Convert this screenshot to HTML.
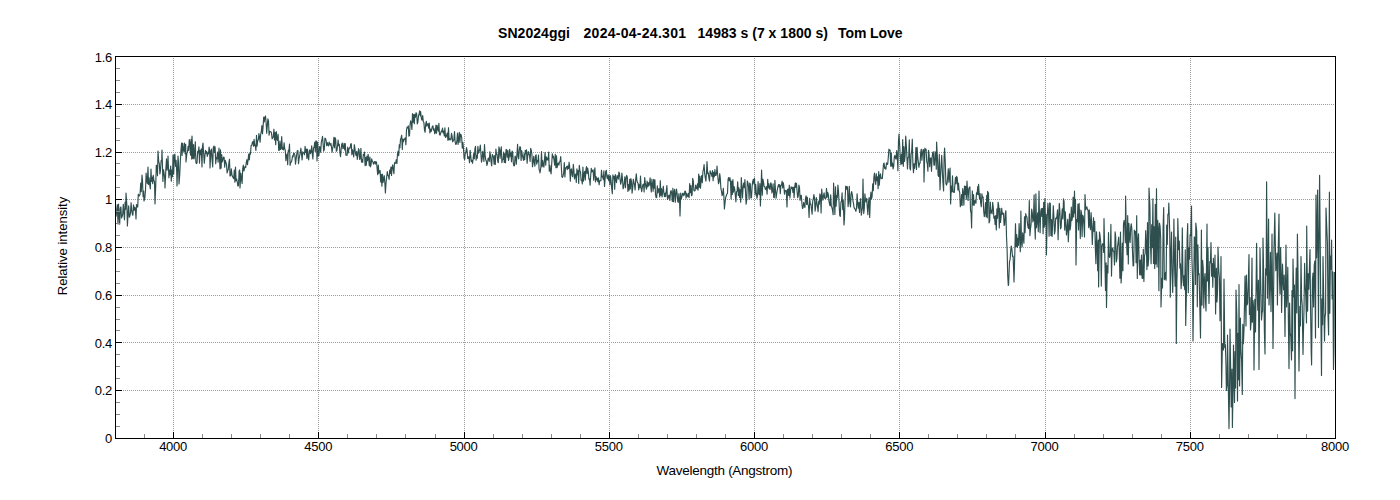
<!DOCTYPE html>
<html><head><meta charset="utf-8"><title>SN2024ggi</title>
<style>
html,body{margin:0;padding:0;background:#fff;}
body{width:1400px;height:500px;overflow:hidden;}
svg{display:block;font-family:"Liberation Sans",Arial,sans-serif;}
.tl{font-size:13px;fill:#000;letter-spacing:-0.25px;}
.al{font-size:13px;fill:#000;}
.tt{font-size:14px;font-weight:bold;fill:#000;}
</style></head><body>
<svg width="1400" height="500" viewBox="0 0 1400 500" xmlns="http://www.w3.org/2000/svg">
<rect width="1400" height="500" fill="#fff"/>

<g shape-rendering="crispEdges" stroke="#9c9c9c" stroke-width="1" stroke-dasharray="1 1">
<line x1="123" y1="390.5" x2="1335" y2="390.5"/>
<line x1="123" y1="342.5" x2="1335" y2="342.5"/>
<line x1="123" y1="295.5" x2="1335" y2="295.5"/>
<line x1="123" y1="247.5" x2="1335" y2="247.5"/>
<line x1="123" y1="199.5" x2="1335" y2="199.5"/>
<line x1="123" y1="152.5" x2="1335" y2="152.5"/>
<line x1="123" y1="104.5" x2="1335" y2="104.5"/>
<line x1="173.5" y1="58" x2="173.5" y2="432"/>
<line x1="318.5" y1="58" x2="318.5" y2="432"/>
<line x1="464.5" y1="58" x2="464.5" y2="432"/>
<line x1="609.5" y1="58" x2="609.5" y2="432"/>
<line x1="754.5" y1="58" x2="754.5" y2="432"/>
<line x1="899.5" y1="58" x2="899.5" y2="432"/>
<line x1="1045.5" y1="58" x2="1045.5" y2="432"/>
<line x1="1190.5" y1="58" x2="1190.5" y2="432"/>
</g>
<path d="M115.5,213.0 L116.1,216.1 L116.7,210.2 L117.3,204.7 L118.0,224.0 L118.5,204.0 L119.1,213.6 L119.7,224.1 L120.3,208.1 L120.9,206.9 L121.5,217.9 L122.1,216.6 L122.7,214.1 L123.3,204.4 L123.9,212.7 L124.5,219.8 L125.1,202.0 L125.7,209.3 L126.0,193.0 L126.9,205.6 L127.4,226.0 L128.1,212.8 L128.7,205.9 L129.3,217.1 L129.9,216.0 L130.5,213.0 L131.1,202.7 L131.7,210.1 L132.3,214.0 L132.9,215.3 L133.5,204.8 L134.1,210.4 L134.7,207.2 L135.3,208.1 L136.0,219.0 L136.5,204.5 L137.1,205.5 L137.7,207.1 L138.3,194.1 L138.9,195.7 L139.5,195.9 L140.1,193.9 L140.7,183.1 L141.3,191.6 L142.0,175.0 L142.5,180.7 L143.1,196.7 L143.7,191.1 L144.0,201.0 L144.9,197.5 L145.5,190.3 L146.1,173.1 L146.7,180.3 L147.3,183.6 L148.0,167.0 L148.5,184.4 L149.1,177.9 L149.7,184.3 L150.3,188.8 L151.0,169.0 L151.5,181.5 L152.1,177.1 L152.7,183.6 L153.3,175.4 L153.9,180.6 L154.5,181.6 L155.0,204.0 L155.7,186.6 L156.3,165.3 L156.9,165.5 L157.5,175.7 L158.0,151.0 L158.7,161.4 L159.3,163.6 L159.9,173.9 L160.5,170.2 L161.1,160.7 L161.7,160.9 L162.0,150.0 L162.9,181.5 L163.5,169.7 L164.1,173.4 L164.7,178.0 L165.0,188.0 L165.9,168.4 L166.5,158.8 L167.1,170.3 L167.7,165.1 L168.0,156.0 L168.9,177.8 L169.5,170.0 L170.0,175.0 L170.7,166.1 L171.3,181.1 L171.9,170.0 L172.5,176.7 L173.0,155.0 L173.7,174.0 L174.3,155.4 L174.9,154.2 L175.5,166.3 L176.1,160.3 L176.7,171.7 L177.0,186.0 L178.0,156.0 L178.5,162.7 L179.0,184.0 L179.7,175.1 L180.3,162.1 L180.9,151.0 L181.6,143.0 L182.1,155.5 L182.7,143.2 L183.3,150.5 L183.9,151.5 L184.5,143.1 L185.1,153.6 L185.7,144.3 L186.0,162.0 L186.9,153.2 L187.5,152.3 L188.1,146.4 L188.7,150.5 L189.3,139.5 L189.9,142.7 L190.5,155.1 L191.1,139.2 L191.7,159.1 L192.0,136.0 L192.9,158.6 L193.5,144.6 L194.1,158.9 L194.7,153.6 L195.3,141.7 L195.9,162.5 L196.5,163.6 L197.0,163.0 L197.7,151.4 L198.3,152.7 L198.9,146.8 L199.5,163.1 L200.1,150.4 L200.7,154.7 L201.3,148.8 L202.0,167.0 L202.5,146.3 L203.0,143.0 L203.7,154.3 L204.3,163.3 L204.9,156.0 L205.5,150.3 L206.1,153.3 L206.7,151.5 L207.3,156.4 L207.9,153.2 L208.5,153.9 L209.1,147.1 L209.7,150.3 L210.0,168.0 L210.9,151.4 L211.5,149.1 L212.1,160.1 L212.7,167.0 L213.3,147.5 L214.0,146.0 L214.5,152.4 L215.1,146.8 L215.7,163.8 L216.3,157.8 L216.9,158.7 L217.5,152.1 L218.1,162.2 L218.7,153.8 L219.0,148.0 L220.0,169.0 L220.5,149.9 L221.1,168.2 L221.7,154.6 L222.3,161.9 L222.9,159.8 L223.5,157.1 L224.1,157.3 L224.7,167.2 L225.3,160.4 L225.9,162.3 L226.5,164.4 L227.1,172.9 L227.7,170.8 L228.3,169.3 L228.9,162.8 L229.5,159.2 L230.0,176.0 L230.7,175.7 L231.3,168.8 L231.9,174.4 L232.5,176.6 L233.1,177.5 L233.7,178.6 L234.3,170.1 L234.9,182.2 L235.5,167.1 L236.1,180.7 L236.7,179.1 L237.3,182.0 L237.9,186.1 L238.5,185.3 L239.1,171.1 L239.7,169.9 L240.0,188.0 L240.9,173.2 L241.5,179.1 L242.1,183.5 L242.7,168.8 L243.3,165.0 L243.9,171.0 L244.5,168.7 L245.1,166.5 L245.7,167.5 L246.3,162.3 L246.9,159.7 L247.5,164.6 L248.1,159.6 L248.7,154.1 L249.3,159.9 L249.9,153.3 L250.5,154.1 L251.1,145.5 L251.7,145.5 L252.3,142.5 L252.9,141.6 L253.5,146.3 L254.1,139.3 L254.7,145.6 L255.3,145.0 L255.9,150.5 L256.5,135.3 L257.1,146.2 L257.7,140.4 L258.3,140.3 L258.9,133.5 L259.5,136.9 L260.1,142.3 L260.7,134.3 L261.3,131.7 L261.9,125.6 L262.5,133.8 L263.1,126.6 L263.7,117.0 L264.3,121.9 L264.9,117.2 L265.5,115.9 L266.1,122.4 L266.7,133.2 L267.3,126.0 L267.9,118.9 L268.5,121.1 L269.1,135.2 L269.7,131.3 L270.3,131.7 L270.9,131.7 L271.5,133.1 L272.1,138.8 L272.7,138.0 L273.3,136.5 L273.9,129.2 L274.5,139.9 L275.1,132.5 L275.7,144.6 L276.3,131.6 L276.9,138.7 L277.5,140.4 L278.1,134.2 L278.7,150.3 L279.3,150.3 L279.9,141.0 L280.5,149.4 L281.1,148.2 L281.7,136.6 L282.3,149.3 L282.9,147.9 L283.5,149.9 L284.1,142.7 L284.7,148.7 L285.3,150.2 L285.9,160.7 L286.5,155.9 L287.1,153.8 L287.7,164.7 L288.3,150.3 L288.9,151.6 L289.5,144.0 L290.1,165.3 L290.7,162.4 L291.3,162.0 L291.9,160.3 L292.5,155.9 L293.1,156.8 L293.7,153.0 L294.3,153.4 L294.9,155.4 L295.5,164.1 L296.1,159.2 L296.7,154.5 L297.3,150.8 L297.9,150.5 L298.5,163.8 L299.1,158.6 L299.7,155.5 L300.3,152.5 L300.9,148.2 L301.5,154.2 L302.1,160.0 L302.7,151.9 L303.3,152.8 L303.9,152.8 L304.5,154.8 L305.1,146.4 L305.7,152.4 L306.3,149.0 L306.9,158.5 L307.5,149.2 L308.1,156.6 L308.7,160.0 L309.3,151.4 L309.9,149.8 L310.5,153.6 L311.1,151.9 L311.7,145.8 L312.3,153.6 L312.9,158.9 L313.5,147.7 L314.1,147.5 L314.7,142.2 L315.3,151.4 L315.9,140.9 L316.5,141.3 L317.0,161.0 L317.7,142.0 L318.3,156.0 L318.9,155.6 L319.5,146.7 L320.1,147.1 L320.7,152.3 L321.3,142.2 L321.9,139.8 L322.5,136.4 L323.1,143.9 L323.7,151.2 L324.3,149.3 L324.9,138.2 L325.5,138.6 L326.1,140.5 L326.7,145.7 L327.3,142.5 L327.9,145.2 L328.5,145.8 L329.1,142.0 L329.7,143.6 L330.3,145.3 L330.9,143.4 L331.5,147.1 L332.1,152.2 L332.7,148.0 L333.3,145.1 L333.9,137.4 L334.5,147.8 L335.1,137.7 L335.7,139.2 L336.3,151.2 L336.9,150.8 L337.5,146.2 L338.1,140.0 L338.7,145.6 L339.3,144.3 L339.9,152.1 L340.5,156.7 L341.1,150.0 L341.7,144.5 L342.3,143.0 L342.9,148.6 L343.5,148.0 L344.1,143.4 L344.7,150.0 L345.3,143.6 L345.9,155.2 L346.5,155.1 L347.1,155.3 L347.7,147.0 L348.3,152.9 L348.9,149.2 L349.5,147.8 L350.1,148.2 L350.7,144.0 L351.3,143.7 L351.9,154.8 L352.5,149.7 L353.1,152.5 L353.7,156.9 L354.3,144.7 L354.9,148.1 L355.5,153.9 L356.1,155.5 L356.7,151.4 L357.3,159.4 L357.9,155.7 L358.5,148.7 L359.1,150.1 L359.7,159.5 L360.3,158.1 L360.9,148.3 L361.5,162.1 L362.1,159.5 L362.7,162.5 L363.3,154.6 L363.9,155.3 L364.5,152.1 L365.1,165.6 L365.7,157.5 L366.3,165.1 L366.9,156.2 L367.5,160.8 L368.1,154.3 L368.7,159.1 L369.3,165.6 L369.9,157.0 L370.5,166.8 L371.1,164.3 L371.7,158.8 L372.3,161.2 L372.9,161.8 L373.5,164.1 L374.1,162.3 L374.7,161.5 L375.3,164.1 L375.9,161.7 L376.5,162.0 L377.1,168.5 L377.7,174.6 L378.3,165.1 L378.9,173.3 L379.5,171.0 L380.1,170.6 L380.7,181.9 L381.3,174.3 L381.9,186.1 L382.5,174.2 L383.1,182.5 L383.7,179.0 L384.3,175.7 L384.9,183.6 L385.4,193.0 L386.1,181.7 L386.7,177.1 L387.3,171.5 L387.9,175.5 L388.5,175.8 L389.1,179.4 L389.7,170.1 L390.3,173.5 L390.9,167.0 L391.5,175.5 L392.1,167.4 L392.7,164.9 L393.3,169.8 L393.9,173.7 L394.5,162.7 L395.1,162.9 L395.7,163.1 L396.3,159.7 L396.9,163.6 L397.5,154.1 L398.1,151.2 L398.7,155.6 L399.3,144.7 L399.9,147.9 L400.5,139.4 L401.1,137.7 L401.7,135.2 L402.3,149.4 L402.9,139.0 L403.5,141.6 L404.1,139.1 L404.7,139.4 L405.3,137.8 L405.9,144.8 L406.5,129.8 L407.1,127.2 L407.7,128.0 L408.3,125.9 L408.9,136.2 L409.5,135.6 L410.1,124.3 L410.7,120.9 L411.3,123.4 L411.9,129.5 L412.5,113.5 L413.1,122.1 L413.7,114.5 L414.3,123.8 L414.9,114.2 L415.5,117.3 L416.1,112.7 L416.7,114.0 L417.3,123.9 L417.9,122.0 L418.5,115.9 L419.1,113.7 L419.7,110.9 L420.3,115.9 L420.6,111.6 L421.5,119.3 L422.1,120.1 L422.7,115.6 L423.3,121.7 L423.9,122.6 L424.5,130.1 L425.1,132.3 L425.7,124.3 L426.3,121.4 L426.9,126.2 L427.5,123.7 L428.1,123.7 L428.7,128.1 L429.3,123.1 L429.9,132.9 L430.5,129.0 L431.1,131.7 L431.7,129.3 L432.3,126.5 L432.9,125.9 L433.5,130.2 L434.1,128.7 L434.7,133.8 L435.3,132.4 L435.9,125.2 L436.5,133.3 L437.1,125.3 L437.7,128.9 L438.3,131.2 L438.9,123.4 L439.5,134.6 L440.1,135.2 L440.7,133.0 L441.3,131.1 L441.9,131.7 L442.5,128.1 L443.1,132.9 L443.7,131.0 L444.3,136.0 L444.9,127.9 L445.5,137.4 L446.1,136.9 L446.7,135.0 L447.3,133.0 L447.9,140.3 L448.5,127.7 L449.1,140.0 L449.7,138.7 L450.3,139.1 L450.9,139.9 L451.5,133.3 L452.1,136.0 L452.7,141.8 L453.3,140.7 L453.9,139.6 L454.5,131.6 L455.1,141.7 L455.7,144.5 L456.3,144.0 L456.9,140.6 L457.5,133.0 L458.1,144.4 L458.7,139.1 L459.3,132.3 L459.9,142.4 L460.5,134.1 L461.1,134.8 L461.7,137.5 L462.3,148.2 L462.9,142.3 L463.5,148.8 L464.1,158.2 L464.7,159.6 L465.3,152.2 L465.9,153.0 L466.5,147.6 L467.1,150.5 L467.7,158.5 L468.3,158.5 L468.9,156.6 L469.5,162.8 L470.1,150.3 L470.7,155.5 L471.3,161.4 L471.9,160.4 L472.5,163.3 L473.1,159.1 L473.7,153.5 L474.3,158.8 L474.9,149.0 L475.5,146.4 L476.1,160.3 L476.7,155.5 L477.3,158.3 L477.9,146.3 L478.5,153.1 L479.1,151.4 L479.7,149.7 L480.3,145.1 L480.9,153.3 L481.5,162.2 L482.1,158.8 L482.7,151.4 L483.3,155.7 L483.9,161.4 L484.5,144.6 L485.1,154.9 L485.7,159.9 L486.3,160.9 L486.9,165.4 L487.5,163.3 L488.1,158.2 L488.7,158.1 L489.3,161.5 L489.9,151.7 L490.5,155.5 L491.1,162.1 L491.7,165.9 L492.3,154.5 L492.9,155.4 L493.5,157.3 L494.1,164.1 L494.7,155.5 L495.3,164.5 L495.9,149.1 L496.5,154.3 L497.1,154.2 L497.7,161.3 L498.3,162.7 L498.9,146.8 L499.5,149.4 L500.1,158.3 L500.7,150.9 L501.3,146.8 L501.9,162.6 L502.5,159.3 L503.1,159.3 L503.7,152.1 L504.3,162.5 L504.9,153.8 L505.5,162.8 L506.1,149.4 L506.7,149.7 L507.3,157.2 L507.9,150.6 L508.5,160.5 L509.1,157.6 L509.7,149.3 L510.3,156.1 L510.9,152.9 L511.5,161.8 L512.1,151.0 L512.7,152.3 L513.3,163.2 L513.9,165.9 L514.5,165.5 L515.1,156.0 L515.7,157.2 L516.3,164.3 L516.9,154.6 L517.6,144.4 L518.1,156.4 L518.7,158.9 L519.3,149.9 L519.9,146.7 L520.5,147.4 L521.1,160.5 L521.7,150.7 L522.3,154.9 L522.9,157.6 L523.5,160.4 L524.1,153.7 L524.7,159.7 L525.3,150.4 L525.9,153.7 L526.5,149.9 L527.1,163.3 L527.7,156.3 L528.3,151.6 L528.9,154.1 L529.5,155.1 L530.1,161.4 L530.7,148.4 L531.3,150.5 L531.9,154.3 L532.5,166.8 L533.1,162.9 L533.7,156.3 L534.3,161.7 L534.9,166.3 L535.5,155.7 L536.1,154.8 L536.7,164.2 L537.3,160.7 L537.9,161.8 L538.5,155.1 L539.1,169.6 L539.7,170.9 L540.0,173.0 L540.9,167.1 L541.5,151.5 L542.1,166.8 L542.7,160.5 L543.3,165.4 L543.9,167.1 L544.5,159.3 L545.1,152.3 L545.7,165.1 L546.3,156.9 L546.9,159.9 L547.5,158.1 L548.1,160.1 L548.7,152.0 L549.3,171.2 L549.9,165.3 L550.5,171.0 L551.1,174.0 L551.7,164.0 L552.3,153.9 L552.9,157.7 L553.5,156.3 L554.1,160.6 L554.7,165.2 L555.3,154.3 L555.9,167.6 L556.5,155.9 L557.1,167.6 L557.7,164.5 L558.3,163.1 L558.9,165.1 L559.5,161.7 L560.1,161.4 L560.7,156.6 L561.3,166.3 L561.9,176.9 L562.5,177.4 L563.1,175.7 L563.7,172.7 L564.3,162.6 L564.9,176.9 L565.5,167.8 L566.1,167.9 L566.7,166.4 L567.3,169.7 L567.9,165.8 L568.5,168.7 L569.1,162.2 L569.7,167.0 L570.3,181.1 L570.9,169.9 L571.5,168.9 L572.1,175.2 L572.7,176.7 L573.3,164.4 L573.9,170.5 L574.5,178.9 L575.1,174.9 L575.7,174.1 L576.3,182.5 L576.9,168.9 L577.5,174.8 L578.1,170.6 L578.7,183.5 L579.3,165.3 L579.9,170.7 L580.5,171.7 L581.1,180.3 L581.7,180.0 L582.3,184.0 L582.9,167.0 L583.5,181.1 L584.1,173.8 L584.7,171.4 L585.3,180.0 L585.9,170.1 L586.5,166.5 L587.1,173.6 L587.7,168.0 L588.3,172.0 L588.9,179.2 L589.5,178.8 L590.1,185.2 L590.7,175.3 L591.3,168.4 L591.9,171.8 L592.5,171.0 L593.1,169.8 L593.7,180.1 L594.3,172.8 L594.9,167.9 L595.5,181.9 L596.1,176.6 L596.7,179.9 L597.3,178.2 L597.9,181.8 L598.5,177.9 L599.1,184.8 L599.7,180.7 L600.3,180.5 L600.9,180.7 L601.5,170.2 L602.1,176.9 L602.7,176.3 L603.3,179.6 L603.9,170.9 L604.5,186.5 L605.1,179.1 L605.7,171.6 L606.3,170.3 L606.9,177.1 L607.5,178.7 L608.1,174.8 L608.7,180.7 L609.3,175.7 L609.9,184.8 L610.5,175.7 L611.1,181.1 L611.7,188.8 L612.3,193.8 L612.9,174.9 L613.5,178.8 L614.1,176.3 L614.7,189.3 L615.3,174.6 L615.9,179.0 L616.5,182.7 L617.1,175.7 L617.7,175.9 L618.3,179.1 L618.9,172.0 L619.5,173.8 L620.1,179.7 L620.7,184.2 L621.3,181.5 L621.9,173.0 L622.5,179.4 L623.1,188.8 L623.7,187.2 L624.3,182.3 L624.9,176.7 L625.5,187.6 L626.1,178.6 L626.7,175.3 L627.3,177.2 L627.9,191.4 L628.5,184.5 L629.1,190.2 L629.7,179.3 L630.3,189.0 L630.9,178.5 L631.5,181.6 L632.1,193.1 L632.7,187.9 L633.3,179.2 L633.9,182.1 L634.5,185.0 L635.1,189.9 L635.7,179.3 L636.3,173.8 L636.9,180.7 L637.5,182.7 L638.1,183.4 L638.7,190.0 L639.3,184.7 L639.9,187.7 L640.5,176.1 L641.1,187.9 L641.7,191.6 L642.3,187.5 L642.9,184.6 L643.5,184.1 L644.1,192.0 L644.7,177.6 L645.3,182.9 L645.9,187.1 L646.5,189.1 L647.1,181.1 L647.7,186.8 L648.3,182.6 L648.9,185.8 L649.5,184.1 L650.1,177.9 L650.7,185.4 L651.3,192.0 L651.9,179.2 L652.5,184.2 L653.1,191.3 L653.7,179.3 L654.3,188.1 L654.9,179.8 L655.5,194.4 L656.1,197.7 L656.7,197.4 L657.3,185.9 L657.9,192.9 L658.5,188.9 L659.1,188.9 L659.7,196.9 L660.3,180.7 L660.9,195.3 L661.5,188.5 L662.1,197.0 L662.7,191.2 L663.3,186.2 L663.9,193.2 L664.5,196.7 L665.1,193.1 L665.7,196.7 L666.3,190.8 L666.9,185.6 L667.5,199.4 L668.1,198.5 L668.7,195.4 L669.3,195.0 L669.9,200.4 L670.5,191.9 L671.1,190.6 L671.7,193.7 L672.3,201.4 L672.9,188.2 L673.5,201.6 L674.1,191.5 L674.7,189.4 L675.3,202.1 L675.9,195.0 L676.5,189.0 L677.1,193.6 L677.7,201.2 L678.3,202.4 L678.9,193.6 L679.5,198.8 L680.0,216.0 L680.7,193.1 L681.3,198.8 L681.9,196.8 L682.5,193.6 L683.1,193.2 L683.7,195.7 L684.3,194.9 L684.9,191.1 L685.5,191.2 L686.1,198.2 L686.7,193.3 L687.3,196.0 L687.9,196.6 L688.5,193.3 L689.1,197.6 L689.7,183.6 L690.3,192.6 L690.9,185.6 L691.5,195.6 L692.1,195.1 L692.7,178.4 L693.3,181.0 L693.9,190.5 L694.5,191.0 L695.1,190.5 L695.7,185.1 L696.3,188.3 L696.9,189.0 L697.5,183.8 L698.1,190.1 L698.7,174.0 L699.3,187.2 L699.9,176.2 L700.5,188.1 L701.1,180.1 L701.7,175.5 L702.3,182.6 L702.9,171.7 L703.5,169.4 L704.1,164.6 L704.7,173.7 L705.3,177.8 L705.9,181.1 L706.5,172.6 L707.0,161.6 L707.7,173.8 L708.3,172.9 L708.9,178.1 L709.5,181.2 L710.1,170.8 L710.7,172.5 L711.3,174.0 L711.9,176.4 L712.5,170.5 L713.1,180.7 L713.7,172.4 L714.3,176.9 L714.9,169.5 L715.5,175.4 L716.1,175.3 L716.7,171.5 L717.0,166.0 L717.9,177.5 L718.5,183.7 L719.1,182.1 L719.7,173.7 L720.3,178.1 L720.9,188.7 L721.5,191.2 L722.1,195.6 L722.7,194.0 L723.3,188.2 L723.9,196.6 L724.4,209.0 L725.1,202.2 L725.7,197.4 L726.3,195.7 L726.9,194.0 L727.5,193.3 L728.1,179.1 L728.6,177.6 L729.3,180.8 L729.9,177.5 L730.5,181.4 L731.1,198.9 L731.7,181.0 L732.3,194.5 L732.9,179.5 L733.5,192.1 L734.1,186.6 L734.7,189.1 L735.3,195.0 L735.9,201.8 L736.5,191.9 L737.1,191.2 L737.7,181.8 L738.3,195.5 L738.9,187.7 L739.5,197.5 L740.1,189.7 L740.7,202.2 L741.3,177.5 L741.9,187.4 L742.5,198.0 L743.1,186.9 L743.7,183.1 L744.3,187.7 L744.9,179.6 L745.5,191.5 L746.1,204.1 L746.7,199.9 L747.3,181.0 L747.9,182.6 L748.5,186.5 L749.1,199.2 L749.7,183.0 L750.3,184.0 L750.9,198.0 L751.5,197.5 L752.1,186.6 L752.7,181.3 L753.3,179.4 L753.9,183.9 L754.5,178.0 L755.1,194.9 L755.7,184.3 L756.3,192.5 L756.9,198.3 L757.5,195.8 L758.1,181.6 L758.7,193.7 L759.3,194.6 L759.9,183.6 L760.4,206.0 L761.1,187.3 L761.6,170.0 L762.3,195.2 L762.9,179.1 L763.5,182.0 L764.1,186.3 L764.7,186.6 L765.3,189.1 L765.9,189.7 L766.5,186.6 L767.1,194.1 L767.7,179.4 L768.3,188.0 L768.9,183.7 L769.5,188.8 L770.1,189.4 L770.7,182.8 L771.3,184.1 L771.9,192.9 L772.5,190.4 L773.1,183.8 L773.7,197.2 L774.3,197.7 L774.9,180.4 L775.5,190.4 L776.1,198.3 L776.7,193.5 L777.3,190.0 L777.9,186.9 L778.5,184.6 L779.1,186.9 L779.7,184.5 L780.3,193.7 L780.9,185.5 L781.5,185.2 L782.1,181.2 L782.7,187.9 L783.3,182.7 L783.9,186.9 L784.5,194.2 L785.1,190.4 L785.7,191.2 L786.3,190.7 L787.0,207.0 L787.5,189.4 L788.1,189.1 L788.7,195.5 L789.3,185.2 L789.9,198.0 L790.5,191.4 L791.1,186.8 L791.7,188.3 L792.3,187.3 L792.9,192.4 L793.5,187.2 L794.1,197.7 L794.7,187.0 L795.3,182.9 L795.9,187.3 L796.5,183.3 L797.1,191.5 L797.7,197.6 L798.3,195.8 L798.9,185.1 L799.5,187.5 L800.1,200.3 L800.7,195.8 L801.3,195.3 L801.9,203.3 L802.5,208.5 L803.1,207.8 L803.7,202.3 L804.3,205.0 L804.9,207.5 L805.5,198.3 L806.1,195.9 L806.7,204.5 L807.3,197.2 L807.9,204.4 L808.5,205.9 L809.1,217.5 L809.7,198.3 L810.3,204.3 L810.9,204.0 L811.5,209.5 L812.1,214.1 L812.7,201.3 L813.3,198.8 L813.9,194.5 L814.5,198.1 L815.1,211.2 L815.7,206.7 L816.3,197.6 L816.9,202.8 L817.5,206.9 L818.1,211.6 L818.7,201.0 L819.3,204.3 L819.9,193.9 L820.5,195.5 L821.1,212.9 L821.7,189.0 L822.3,196.0 L822.9,200.2 L823.5,195.7 L824.1,192.8 L824.7,198.2 L825.3,198.6 L825.9,198.0 L826.5,188.4 L827.1,197.5 L827.7,192.4 L828.3,194.4 L828.9,200.7 L829.5,204.0 L830.1,205.8 L830.7,194.8 L831.3,206.1 L831.9,207.6 L832.5,210.0 L833.1,214.7 L833.6,183.0 L834.3,200.4 L834.9,214.4 L835.5,186.8 L836.1,206.3 L836.7,195.6 L837.3,197.9 L837.9,185.0 L838.5,191.6 L839.1,203.2 L839.7,215.3 L840.3,216.4 L840.9,202.5 L841.5,201.0 L842.1,192.8 L842.7,209.6 L843.3,200.4 L844.0,225.0 L844.5,218.3 L845.1,199.5 L845.7,186.2 L846.3,189.4 L846.9,186.3 L847.5,187.6 L848.1,206.7 L848.7,199.1 L849.3,186.3 L849.9,203.0 L850.5,207.0 L851.1,194.1 L851.7,191.6 L852.3,194.5 L852.9,200.5 L853.5,203.7 L854.1,207.6 L854.7,208.7 L855.3,209.5 L855.9,211.3 L856.5,208.2 L857.1,193.8 L857.7,203.8 L858.3,208.1 L858.9,202.4 L859.5,212.4 L860.1,202.6 L860.7,198.6 L861.3,215.2 L861.9,211.0 L862.5,207.5 L863.0,179.0 L863.7,213.6 L864.3,208.6 L864.9,193.8 L865.5,200.3 L866.1,202.0 L866.7,198.4 L867.3,207.6 L867.9,214.6 L868.5,201.8 L869.1,197.6 L869.7,217.5 L870.3,200.4 L870.9,192.0 L871.5,198.9 L872.1,196.6 L872.7,183.8 L873.3,190.7 L873.9,176.9 L874.5,173.1 L875.1,180.7 L875.7,184.5 L876.3,173.7 L876.9,180.7 L877.5,176.9 L878.1,188.7 L878.7,171.6 L879.3,185.2 L879.9,175.6 L880.5,173.9 L881.1,178.7 L881.7,178.3 L882.3,178.6 L882.9,171.9 L883.5,164.0 L884.1,163.0 L884.7,168.5 L885.3,167.3 L885.9,169.3 L886.5,162.9 L887.1,164.5 L887.7,164.2 L888.3,157.3 L888.9,149.2 L889.5,150.5 L890.1,150.0 L890.7,166.2 L891.3,153.1 L891.9,166.2 L892.5,163.1 L893.1,168.9 L893.7,166.2 L894.3,156.8 L894.9,155.4 L895.5,158.2 L896.1,159.1 L896.7,150.6 L897.3,156.1 L897.9,170.7 L898.5,141.1 L899.0,134.0 L899.7,145.6 L900.3,157.7 L900.9,164.7 L901.5,154.2 L902.1,163.7 L902.7,139.6 L903.3,166.3 L903.9,146.7 L904.5,161.5 L905.1,156.3 L905.7,136.0 L906.3,145.1 L906.9,156.8 L907.5,168.9 L908.1,157.6 L908.7,157.3 L909.3,139.9 L909.9,168.2 L910.5,170.0 L911.1,154.4 L911.7,151.2 L912.3,139.2 L912.9,164.6 L913.5,172.6 L914.1,163.7 L914.7,168.3 L915.3,162.7 L915.9,147.5 L916.5,169.5 L917.1,147.3 L917.7,156.5 L918.3,161.9 L918.9,167.3 L919.5,163.4 L920.1,163.2 L920.7,152.4 L921.3,149.2 L921.9,160.3 L922.5,153.3 L923.1,149.6 L923.7,150.0 L924.0,182.0 L924.9,148.1 L925.5,150.1 L926.1,149.2 L926.7,161.6 L927.3,163.5 L927.9,171.2 L928.5,150.4 L929.1,154.8 L929.7,166.6 L930.3,158.4 L930.9,157.8 L931.5,171.3 L932.1,158.1 L932.7,152.5 L933.3,151.8 L933.9,165.1 L934.5,165.2 L935.1,151.7 L935.7,154.0 L936.3,169.2 L936.6,142.0 L937.5,159.4 L938.1,175.2 L938.7,176.4 L939.3,154.2 L940.0,190.0 L940.5,178.2 L941.1,165.4 L941.7,155.3 L942.3,169.5 L942.9,182.0 L943.6,191.0 L944.1,157.2 L944.6,148.0 L945.3,162.8 L945.9,183.5 L946.5,185.1 L947.1,183.2 L947.7,177.0 L948.3,168.7 L948.9,182.1 L949.5,172.9 L950.1,168.0 L950.6,204.0 L951.3,186.2 L951.9,191.9 L952.5,175.9 L953.1,191.6 L953.7,192.3 L954.3,192.5 L954.9,184.0 L955.5,177.3 L956.1,183.9 L956.7,176.3 L957.3,178.2 L957.9,190.0 L958.5,183.1 L959.1,190.5 L959.7,192.3 L960.3,206.7 L960.9,204.9 L961.5,194.6 L962.1,205.5 L962.7,188.5 L963.3,192.8 L963.9,205.1 L964.5,186.1 L965.1,194.4 L965.7,186.2 L966.3,199.3 L967.0,181.0 L967.5,190.4 L968.1,200.4 L968.7,189.3 L969.3,187.5 L969.9,186.9 L970.5,210.3 L971.1,213.2 L971.6,228.0 L972.3,190.9 L972.9,204.9 L973.5,194.6 L974.1,205.4 L974.7,200.8 L975.3,200.7 L975.9,203.5 L976.5,192.8 L977.1,194.4 L977.7,186.6 L978.3,194.6 L978.6,184.4 L979.5,199.0 L980.1,193.5 L980.7,202.9 L981.3,206.8 L981.9,193.8 L982.5,197.6 L983.1,197.0 L983.7,211.1 L984.3,216.6 L984.9,212.5 L985.5,202.6 L986.1,216.8 L986.7,195.4 L987.3,217.7 L987.6,191.4 L988.5,193.3 L989.1,222.9 L989.7,220.9 L990.3,202.0 L990.9,212.9 L991.5,210.3 L992.1,214.0 L992.7,202.3 L993.3,207.7 L993.9,218.2 L994.5,216.3 L995.1,224.4 L995.7,215.6 L996.3,229.9 L996.9,208.9 L997.5,218.3 L998.1,202.2 L998.7,205.6 L999.3,227.9 L999.9,208.3 L1000.5,222.4 L1001.1,216.7 L1001.7,208.2 L1002.3,214.3 L1002.9,213.0 L1003.5,213.4 L1004.1,225.4 L1004.7,224.7 L1005.3,213.3 L1005.9,210.7 L1006.5,236.5 L1007.1,249.2 L1007.7,275.3 L1008.3,285.5 L1008.6,284.5 L1009.5,261.5 L1010.1,259.6 L1010.7,250.7 L1011.2,246.0 L1011.9,249.1 L1012.5,256.5 L1013.1,256.1 L1013.7,272.0 L1014.0,282.0 L1014.9,250.0 L1015.5,223.7 L1016.1,246.5 L1016.7,234.6 L1017.3,247.5 L1017.9,238.2 L1018.5,245.3 L1019.1,223.5 L1019.7,237.1 L1020.3,251.7 L1020.9,211.0 L1021.5,242.3 L1022.1,246.8 L1022.7,232.8 L1023.3,237.5 L1023.9,243.2 L1024.5,216.7 L1025.1,232.6 L1025.7,213.7 L1026.3,216.1 L1026.9,216.8 L1027.5,223.8 L1028.1,227.7 L1028.7,228.6 L1029.3,200.5 L1029.9,235.6 L1030.5,228.8 L1031.1,224.1 L1031.7,209.0 L1032.3,212.9 L1032.9,221.9 L1033.5,220.1 L1034.1,194.9 L1034.7,224.6 L1035.3,239.1 L1035.9,193.8 L1036.5,227.8 L1037.1,219.8 L1037.7,212.9 L1038.3,231.7 L1039.0,191.0 L1039.5,217.0 L1040.1,232.8 L1040.7,211.8 L1041.3,208.6 L1041.9,216.5 L1042.5,208.3 L1043.1,233.8 L1043.7,202.3 L1044.3,227.2 L1044.9,198.6 L1045.5,225.1 L1046.1,214.3 L1046.4,255.0 L1047.3,216.8 L1047.9,203.2 L1048.5,211.1 L1049.1,236.2 L1049.7,202.9 L1050.3,203.5 L1050.9,235.5 L1051.5,219.5 L1052.1,236.5 L1052.7,222.6 L1053.3,205.7 L1053.9,217.0 L1054.5,234.0 L1055.1,230.9 L1055.7,218.1 L1056.3,218.9 L1056.9,216.5 L1057.5,209.8 L1058.1,239.7 L1058.7,218.4 L1059.3,203.3 L1059.9,211.4 L1060.5,228.8 L1061.1,227.7 L1061.7,216.5 L1062.3,208.9 L1062.9,219.0 L1063.5,198.8 L1064.1,201.9 L1064.7,230.1 L1065.3,211.7 L1065.9,224.4 L1066.5,235.0 L1067.1,228.4 L1067.7,219.3 L1068.3,241.8 L1068.9,228.8 L1069.5,213.8 L1070.1,229.9 L1070.7,225.5 L1071.3,207.1 L1071.9,220.6 L1072.5,217.0 L1073.1,197.2 L1073.7,217.0 L1074.5,191.0 L1074.9,213.1 L1075.5,199.3 L1076.0,265.0 L1076.7,219.5 L1077.3,221.8 L1077.9,204.2 L1078.5,230.0 L1079.1,203.3 L1079.7,216.9 L1080.3,238.6 L1080.9,210.1 L1081.5,212.9 L1082.1,236.6 L1082.7,215.2 L1083.3,216.7 L1083.9,225.1 L1084.5,236.9 L1085.0,194.5 L1085.7,209.6 L1086.3,207.6 L1086.9,206.9 L1087.5,209.8 L1088.1,210.2 L1088.7,227.6 L1089.3,209.9 L1089.9,225.1 L1090.5,229.6 L1091.1,212.5 L1091.7,225.7 L1092.3,244.4 L1092.9,229.0 L1093.5,217.7 L1094.1,231.5 L1094.7,221.3 L1095.3,247.4 L1095.9,263.7 L1096.5,231.8 L1097.1,244.4 L1097.7,270.8 L1098.3,240.1 L1098.6,287.0 L1099.5,232.1 L1100.1,236.2 L1100.7,242.5 L1101.3,286.1 L1101.9,245.8 L1102.5,243.8 L1103.1,243.7 L1103.7,252.4 L1104.0,218.6 L1104.9,261.2 L1105.5,290.5 L1106.1,262.9 L1106.5,307.5 L1107.3,265.5 L1107.9,273.0 L1108.5,232.6 L1109.1,256.5 L1109.7,257.5 L1110.3,253.3 L1110.9,224.4 L1111.5,276.1 L1112.1,249.2 L1112.7,247.9 L1113.3,251.4 L1113.9,251.7 L1114.5,265.0 L1115.1,231.9 L1115.7,236.9 L1116.3,261.9 L1116.9,258.6 L1117.5,246.8 L1118.1,242.4 L1118.7,237.0 L1119.3,253.2 L1119.9,278.2 L1120.5,232.0 L1121.1,283.0 L1121.7,272.1 L1122.3,243.0 L1122.9,270.7 L1123.5,224.0 L1124.1,220.4 L1124.7,225.8 L1125.3,242.8 L1125.6,196.0 L1126.5,240.3 L1127.1,254.8 L1127.7,215.6 L1128.3,264.0 L1128.9,223.4 L1129.5,237.0 L1130.1,242.5 L1130.7,227.4 L1131.3,223.9 L1131.9,229.9 L1132.5,251.9 L1133.1,266.0 L1133.7,265.4 L1134.3,230.0 L1134.9,233.9 L1135.5,231.3 L1136.1,262.7 L1136.7,215.7 L1137.3,278.4 L1137.9,240.4 L1138.5,233.8 L1139.1,260.1 L1139.7,274.8 L1140.3,260.1 L1140.9,275.1 L1141.5,255.0 L1142.1,278.2 L1142.7,278.4 L1143.3,249.2 L1143.9,281.4 L1144.5,255.7 L1145.1,253.7 L1145.7,230.6 L1146.3,244.5 L1146.9,269.6 L1147.5,222.5 L1148.1,266.0 L1148.7,258.3 L1149.0,188.0 L1149.9,205.8 L1150.5,244.1 L1151.1,263.7 L1151.7,224.7 L1152.3,247.6 L1152.9,198.9 L1153.5,263.5 L1154.1,226.7 L1154.7,268.4 L1155.3,204.3 L1155.9,264.1 L1156.5,188.7 L1157.1,266.9 L1157.7,220.3 L1158.3,227.9 L1158.9,290.7 L1159.5,223.2 L1160.1,226.5 L1160.7,238.5 L1161.0,307.0 L1161.9,278.3 L1162.5,287.9 L1163.1,227.9 L1163.7,207.6 L1164.3,279.7 L1164.9,278.9 L1165.5,272.3 L1166.1,280.2 L1166.7,225.0 L1167.3,244.5 L1167.9,214.3 L1168.5,213.9 L1168.8,203.0 L1169.7,230.8 L1170.3,297.2 L1170.9,252.6 L1171.5,232.0 L1172.1,273.1 L1172.7,292.4 L1173.3,265.1 L1173.9,219.1 L1174.5,262.1 L1175.1,286.2 L1175.7,237.1 L1176.3,343.5 L1176.9,281.0 L1177.5,260.9 L1177.8,218.6 L1178.7,249.7 L1179.3,241.0 L1179.9,268.2 L1180.5,263.8 L1181.1,288.7 L1181.7,280.0 L1182.3,227.8 L1182.9,273.5 L1183.5,285.7 L1184.1,275.7 L1184.7,289.6 L1185.3,249.8 L1185.7,325.5 L1186.5,289.1 L1187.1,239.1 L1187.7,223.6 L1188.3,292.8 L1188.9,247.9 L1189.5,259.1 L1190.1,234.6 L1190.7,235.6 L1191.5,206.0 L1191.9,257.2 L1192.5,277.3 L1193.0,341.0 L1193.7,286.6 L1194.3,236.8 L1194.9,238.9 L1195.5,284.5 L1195.8,223.0 L1196.7,231.4 L1197.3,306.8 L1197.9,244.9 L1198.5,274.6 L1199.1,273.6 L1199.7,301.6 L1200.5,338.0 L1200.8,307.6 L1201.4,230.0 L1202.0,305.2 L1202.6,260.4 L1203.2,267.8 L1203.8,307.9 L1204.4,280.0 L1205.0,273.5 L1205.6,302.6 L1206.0,311.0 L1207.0,224.0 L1207.4,280.9 L1208.0,247.3 L1208.6,286.2 L1209.0,303.5 L1209.8,261.5 L1210.4,262.8 L1211.0,242.6 L1211.6,276.3 L1212.2,263.6 L1212.8,287.3 L1213.4,258.2 L1214.0,275.4 L1214.6,277.3 L1215.0,255.0 L1215.6,314.0 L1216.4,268.2 L1217.0,302.0 L1217.6,289.2 L1218.0,247.0 L1218.8,271.5 L1219.4,277.7 L1220.0,320.8 L1220.6,288.9 L1221.0,256.6 L1221.6,387.5 L1222.4,343.8 L1223.0,343.5 L1223.5,350.0 L1224.0,279.0 L1224.8,347.6 L1225.4,344.7 L1226.0,366.4 L1226.4,390.5 L1227.2,385.0 L1227.5,335.0 L1228.4,391.1 L1229.0,428.6 L1229.6,385.4 L1230.0,329.0 L1230.8,376.2 L1231.2,407.0 L1232.0,369.1 L1232.4,427.4 L1233.2,378.8 L1233.5,345.0 L1234.5,402.5 L1235.0,351.6 L1235.6,388.0 L1236.0,290.0 L1236.8,314.0 L1237.5,401.0 L1238.0,333.2 L1238.6,379.6 L1239.0,284.6 L1239.6,386.0 L1240.4,318.1 L1241.0,350.9 L1241.6,360.2 L1242.3,394.4 L1242.8,324.2 L1243.4,343.8 L1244.0,329.4 L1244.6,298.7 L1245.0,276.0 L1246.0,326.0 L1246.4,275.1 L1247.0,305.0 L1247.6,303.3 L1248.2,286.0 L1249.0,254.6 L1249.4,314.5 L1250.0,297.5 L1250.5,330.0 L1251.2,321.4 L1252.0,258.0 L1252.4,322.3 L1253.0,300.5 L1253.6,307.4 L1254.0,370.0 L1254.8,299.4 L1255.5,332.0 L1256.0,294.2 L1256.6,243.4 L1257.2,289.9 L1257.8,310.2 L1258.4,280.2 L1259.0,369.5 L1259.6,301.1 L1260.0,248.0 L1260.8,287.0 L1261.5,320.0 L1262.0,313.4 L1262.6,310.8 L1263.0,238.0 L1263.8,282.4 L1264.4,332.0 L1265.0,354.0 L1265.6,268.8 L1266.2,275.0 L1266.6,181.8 L1267.4,298.3 L1268.0,262.0 L1268.6,219.0 L1269.0,305.0 L1269.8,283.8 L1270.4,252.4 L1271.0,311.6 L1271.6,274.5 L1272.0,234.0 L1273.0,348.5 L1273.4,316.9 L1274.0,249.2 L1274.8,213.0 L1275.2,236.7 L1275.8,270.7 L1276.4,261.6 L1277.0,253.0 L1277.4,305.0 L1278.2,251.3 L1279.0,214.0 L1279.4,275.6 L1280.0,294.1 L1280.6,247.5 L1281.2,276.7 L1281.6,312.5 L1282.5,264.0 L1283.0,278.5 L1283.6,289.8 L1284.2,275.0 L1285.0,336.5 L1285.4,296.3 L1286.0,245.0 L1286.6,306.9 L1287.2,293.3 L1287.8,267.2 L1288.4,322.0 L1289.0,368.6 L1289.6,303.1 L1290.2,333.1 L1290.8,336.6 L1291.5,360.0 L1292.0,290.6 L1292.6,350.8 L1293.0,259.0 L1293.8,297.0 L1294.4,285.0 L1295.0,398.6 L1295.6,301.1 L1296.2,268.0 L1296.8,313.0 L1297.4,234.0 L1298.0,270.8 L1298.6,335.6 L1299.0,371.0 L1299.8,306.3 L1300.4,326.0 L1301.0,256.6 L1301.6,297.9 L1302.2,305.2 L1303.0,354.5 L1303.4,333.4 L1304.0,309.4 L1304.6,263.4 L1305.2,284.5 L1305.8,296.8 L1306.5,323.0 L1306.7,226.0 L1307.6,311.1 L1308.2,273.7 L1308.8,289.2 L1309.4,268.1 L1310.0,249.6 L1310.6,309.4 L1311.2,352.2 L1311.6,365.0 L1312.4,280.2 L1313.0,273.0 L1313.6,306.9 L1314.2,265.9 L1314.8,261.0 L1315.5,338.0 L1316.0,195.0 L1316.6,257.8 L1317.2,232.7 L1317.6,190.0 L1318.5,327.5 L1319.0,238.7 L1319.6,175.4 L1320.2,241.7 L1320.8,309.2 L1321.5,375.5 L1322.0,298.8 L1322.6,324.7 L1323.0,256.6 L1323.8,302.6 L1324.5,341.0 L1325.0,317.4 L1325.6,313.2 L1326.0,208.0 L1326.8,228.4 L1327.4,242.4 L1328.0,315.0 L1328.6,335.0 L1329.4,192.0 L1329.8,313.3 L1330.4,256.1 L1331.0,269.1 L1331.6,240.0 L1332.2,299.0 L1332.8,271.9 L1333.5,369.5 L1334.0,347.2 L1334.4,272.0" fill="none" stroke="#2f4f4f" stroke-width="1.15" stroke-linejoin="round"/>
<g shape-rendering="crispEdges" fill="#8a8a8a">
<rect x="116" y="426" width="4" height="1"/>
<rect x="116" y="414" width="4" height="1"/>
<rect x="116" y="402" width="4" height="1"/>
<rect x="116" y="378" width="4" height="1"/>
<rect x="116" y="366" width="4" height="1"/>
<rect x="116" y="354" width="4" height="1"/>
<rect x="116" y="330" width="4" height="1"/>
<rect x="116" y="319" width="4" height="1"/>
<rect x="116" y="307" width="4" height="1"/>
<rect x="116" y="283" width="4" height="1"/>
<rect x="116" y="271" width="4" height="1"/>
<rect x="116" y="259" width="4" height="1"/>
<rect x="116" y="235" width="4" height="1"/>
<rect x="116" y="223" width="4" height="1"/>
<rect x="116" y="211" width="4" height="1"/>
<rect x="116" y="187" width="4" height="1"/>
<rect x="116" y="175" width="4" height="1"/>
<rect x="116" y="163" width="4" height="1"/>
<rect x="116" y="140" width="4" height="1"/>
<rect x="116" y="128" width="4" height="1"/>
<rect x="116" y="116" width="4" height="1"/>
<rect x="116" y="92" width="4" height="1"/>
<rect x="116" y="80" width="4" height="1"/>
<rect x="116" y="68" width="4" height="1"/>
<rect x="144" y="434" width="1" height="4"/>
<rect x="202" y="434" width="1" height="4"/>
<rect x="231" y="434" width="1" height="4"/>
<rect x="260" y="434" width="1" height="4"/>
<rect x="289" y="434" width="1" height="4"/>
<rect x="347" y="434" width="1" height="4"/>
<rect x="376" y="434" width="1" height="4"/>
<rect x="405" y="434" width="1" height="4"/>
<rect x="435" y="434" width="1" height="4"/>
<rect x="493" y="434" width="1" height="4"/>
<rect x="522" y="434" width="1" height="4"/>
<rect x="551" y="434" width="1" height="4"/>
<rect x="580" y="434" width="1" height="4"/>
<rect x="638" y="434" width="1" height="4"/>
<rect x="667" y="434" width="1" height="4"/>
<rect x="696" y="434" width="1" height="4"/>
<rect x="725" y="434" width="1" height="4"/>
<rect x="783" y="434" width="1" height="4"/>
<rect x="812" y="434" width="1" height="4"/>
<rect x="841" y="434" width="1" height="4"/>
<rect x="870" y="434" width="1" height="4"/>
<rect x="928" y="434" width="1" height="4"/>
<rect x="957" y="434" width="1" height="4"/>
<rect x="986" y="434" width="1" height="4"/>
<rect x="1015" y="434" width="1" height="4"/>
<rect x="1074" y="434" width="1" height="4"/>
<rect x="1103" y="434" width="1" height="4"/>
<rect x="1132" y="434" width="1" height="4"/>
<rect x="1161" y="434" width="1" height="4"/>
<rect x="1219" y="434" width="1" height="4"/>
<rect x="1248" y="434" width="1" height="4"/>
<rect x="1277" y="434" width="1" height="4"/>
<rect x="1306" y="434" width="1" height="4"/>
</g>
<g shape-rendering="crispEdges" fill="#000">
<rect x="116" y="390" width="6" height="1"/>
<rect x="116" y="342" width="6" height="1"/>
<rect x="116" y="295" width="6" height="1"/>
<rect x="116" y="247" width="6" height="1"/>
<rect x="116" y="199" width="6" height="1"/>
<rect x="116" y="152" width="6" height="1"/>
<rect x="116" y="104" width="6" height="1"/>
<rect x="173" y="432" width="1" height="6"/>
<rect x="318" y="432" width="1" height="6"/>
<rect x="464" y="432" width="1" height="6"/>
<rect x="609" y="432" width="1" height="6"/>
<rect x="754" y="432" width="1" height="6"/>
<rect x="899" y="432" width="1" height="6"/>
<rect x="1045" y="432" width="1" height="6"/>
<rect x="1190" y="432" width="1" height="6"/>
<rect x="115" y="56" width="1221" height="1"/>
<rect x="115" y="438" width="1221" height="1"/>
<rect x="115" y="56" width="1" height="383"/>
<rect x="1335" y="56" width="1" height="383"/>
</g>
<text class="tl" x="112" y="443" text-anchor="end">0</text>
<text class="tl" x="112" y="395" text-anchor="end">0.2</text>
<text class="tl" x="112" y="348" text-anchor="end">0.4</text>
<text class="tl" x="112" y="300" text-anchor="end">0.6</text>
<text class="tl" x="112" y="252" text-anchor="end">0.8</text>
<text class="tl" x="112" y="204" text-anchor="end">1</text>
<text class="tl" x="112" y="157" text-anchor="end">1.2</text>
<text class="tl" x="112" y="109" text-anchor="end">1.4</text>
<text class="tl" x="112" y="62" text-anchor="end">1.6</text>
<text class="tl" x="173.1" y="451" text-anchor="middle">4000</text>
<text class="tl" x="318.3" y="451" text-anchor="middle">4500</text>
<text class="tl" x="463.6" y="451" text-anchor="middle">5000</text>
<text class="tl" x="608.8" y="451" text-anchor="middle">5500</text>
<text class="tl" x="754.0" y="451" text-anchor="middle">6000</text>
<text class="tl" x="899.3" y="451" text-anchor="middle">6500</text>
<text class="tl" x="1044.5" y="451" text-anchor="middle">7000</text>
<text class="tl" x="1189.8" y="451" text-anchor="middle">7500</text>
<text class="tl" x="1335.0" y="451" text-anchor="middle">8000</text>
<text class="al" style="font-size:13.5px" x="656.5" y="475" textLength="136">Wavelength (Angstrom)</text>
<text class="al" transform="translate(67.3,246) rotate(-90)" text-anchor="middle">Relative intensity</text>
<text class="tt" x="498" y="38" textLength="72">SN2024ggi</text>
<text class="tt" x="583.5" y="38" textLength="102.5">2024-04-24.301</text>
<text class="tt" x="697.5" y="38" textLength="130.5">14983 s (7 x 1800 s)</text>
<text class="tt" x="838" y="38" textLength="64.5">Tom Love</text>
</svg></body></html>
